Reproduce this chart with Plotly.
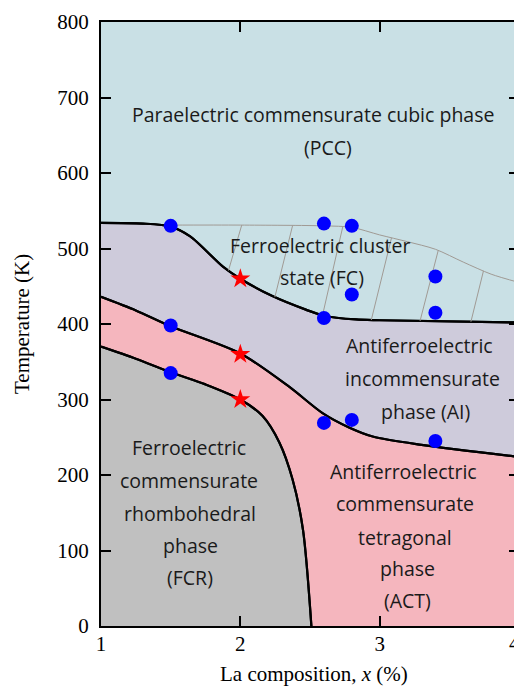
import plotly.graph_objects as go
import numpy as np

# Phase boundary: PCC / FC (thin line)
pcc_fc_x = [1.5, 2.0, 2.6, 2.8, 3.0, 3.2, 3.4, 3.6, 3.8, 4.0]
pcc_fc_y = [531, 531, 530, 528, 518, 509, 499, 482, 466, 455]

# Upper thick boundary (PCC/FC above, AI below)
b2_x = [1.0, 1.3, 1.5, 1.64, 1.875, 2.0, 2.23, 2.47, 2.6, 2.83, 3.0, 4.0]
b2_y = [534, 533, 529, 516, 476, 460, 437, 419, 411, 406, 405, 402]

# AI / ACT boundary
b3_x = [1.0, 1.25, 1.5, 2.0, 2.35, 2.59, 2.78, 2.95, 3.3, 4.0]
b3_y = [436, 418, 397, 361, 317, 282, 263, 251, 240, 224]

# FCR / ACT boundary
b4_x = [1.0, 1.25, 1.5, 1.75, 2.0, 2.16, 2.28, 2.375, 2.45, 2.51]
b4_y = [370, 354, 336, 320, 300, 278, 243, 194, 127, 0]

# Hatch lines in FC region (bottom / top x positions)
hatch_bottom_x = [1.915, 2.248, 2.59, 2.94, 3.29, 3.655]
hatch_top_x = [2.01, 2.375, 2.735, 3.085, 3.42, 3.745]

# Measured points
dots_x = [1.5, 2.6, 2.8, 3.4, 2.8, 3.4, 2.6, 1.5, 1.5, 2.6, 2.8, 3.4]
dots_y = [530, 533, 530, 463, 439, 415, 408, 398, 335, 269, 273, 245]
stars_x = [2.0, 2.0, 2.0]
stars_y = [460, 360, 300]

x_ticks = [1, 2, 3, 4]
x_ticklabels = ["1", "2", "3", ""]
y_ticks = [0, 100, 200, 300, 400, 500, 600, 700, 800]

C_PCC = "#c9e0e5"
C_AI = "#cecbdb"
C_ACT = "#f5b6be"
C_FCR = "#c0c0c0"

fig = go.Figure()

LINE = dict(color="black", width=2.2, shape="spline", smoothing=0.8)
fig.add_trace(go.Scatter(x=b2_x, y=b2_y, mode="lines", line=LINE, fill="tozeroy", fillcolor=C_AI, hoverinfo="skip"))
fig.add_trace(go.Scatter(x=b3_x, y=b3_y, mode="lines", line=LINE, fill="tozeroy", fillcolor=C_ACT, hoverinfo="skip"))
fig.add_trace(go.Scatter(x=b4_x, y=b4_y, mode="lines", line=LINE, fill="tozeroy", fillcolor=C_FCR, hoverinfo="skip"))
for bx, by in [(b2_x, b2_y), (b3_x, b3_y), (b4_x, b4_y)]:
    fig.add_trace(go.Scatter(x=bx, y=by, mode="lines", line=LINE, hoverinfo="skip"))

fig.add_trace(go.Scatter(x=pcc_fc_x, y=pcc_fc_y, mode="lines",
                         line=dict(color="#a09a94", width=1, shape="spline", smoothing=0.8), hoverinfo="skip"))

hx, hy = [], []
for xb, xt in zip(hatch_bottom_x, hatch_top_x):
    hx += [xb, xt, None]
    hy += [float(np.interp(xb, b2_x, b2_y)), float(np.interp(xt, pcc_fc_x, pcc_fc_y)), None]
fig.add_trace(go.Scatter(x=hx, y=hy, mode="lines", line=dict(color="#a09a94", width=1), hoverinfo="skip"))

fig.add_trace(go.Scatter(x=dots_x, y=dots_y, mode="markers", marker=dict(color="#0000ff", size=14, line=dict(width=0))))
fig.add_trace(go.Scatter(x=stars_x, y=stars_y, mode="markers",
                         marker=dict(color="#ff0000", size=15, symbol="star", line=dict(width=0))))

lab_font = dict(family="Open Sans", size=19.5, color="#1a1a1a")

# page body has an 8 px margin: window pixel -> figure pixel
OFF = 8
W0, W1, H0, H1 = 101, 519, 626, 22
def P(x, y):
    return ((x - W0) / (W1 - W0), (H0 - y) / (H0 - H1))

texts = [
    ("Paraelectric commensurate cubic phase", 313, 115),
    ("(PCC)", 328, 148),
    ("Ferroelectric cluster", 320, 245),
    ("state (FC)", 322, 277),
    ("Antiferroelectric", 419, 345),
    ("incommensurate", 422, 378),
    ("phase (AI)", 425, 411),
    ("Ferroelectric", 189, 448),
    ("commensurate", 189, 480),
    ("rhombohedral", 190, 513),
    ("phase", 190, 545),
    ("(FCR)", 190, 577),
    ("Antiferroelectric", 403, 472),
    ("commensurate", 405, 503),
    ("tetragonal", 405, 537),
    ("phase", 407, 568),
    ("(ACT)", 407, 600),
]
for t, px, py in texts:
    xx, yy = P(px, py)
    fig.add_annotation(x=xx, y=yy, xref="paper", yref="paper", text=t, showarrow=False, font=lab_font,
                       xanchor="center", yanchor="middle")

axis_font = dict(family="Liberation Serif", size=21, color="black")

# last x tick label placed at the window edge so it stays visible
fig.add_annotation(x=4, y=0, xref="x", yref="paper", text=str(x_ticks[-1]), showarrow=False, font=axis_font,
                   xanchor="right", yanchor="middle", xshift=3, yshift=-17)

# axis titles
fig.add_annotation(x=0.5, y=0, xref="paper", yref="paper", text="La composition, <i>x</i> (%)", showarrow=False,
                   font=axis_font, xanchor="center", yanchor="middle", xshift=4, yshift=-48)
fig.add_annotation(x=0, y=0.5, xref="paper", yref="paper", text="Temperature (K)", showarrow=False,
                   font=axis_font, xanchor="center", yanchor="middle", textangle=-90, xshift=-79)

fig.update_layout(
    width=522 - OFF, height=688 - OFF,
    margin=dict(l=W0 - OFF, r=522 - W1, t=H1 - OFF, b=688 - H0),
    paper_bgcolor="white",
    plot_bgcolor=C_PCC,
    showlegend=False,
    xaxis=dict(range=[1, 4], tickvals=x_ticks, ticktext=x_ticklabels, ticks="inside", ticklen=10, tickwidth=2,
               tickcolor="black", showline=True, linecolor="black", linewidth=2, mirror="ticks",
               showgrid=False, zeroline=False, tickfont=axis_font, automargin=False, ticklabelstandoff=-2),
    yaxis=dict(range=[0, 800], tickvals=y_ticks, ticks="inside", ticklen=10, tickwidth=2, tickcolor="black",
               showline=True, linecolor="black", linewidth=2, mirror="ticks", showgrid=False, zeroline=False,
               tickfont=axis_font, automargin=False, ticklabelstandoff=6),
)

fig.write_html("out.html")
